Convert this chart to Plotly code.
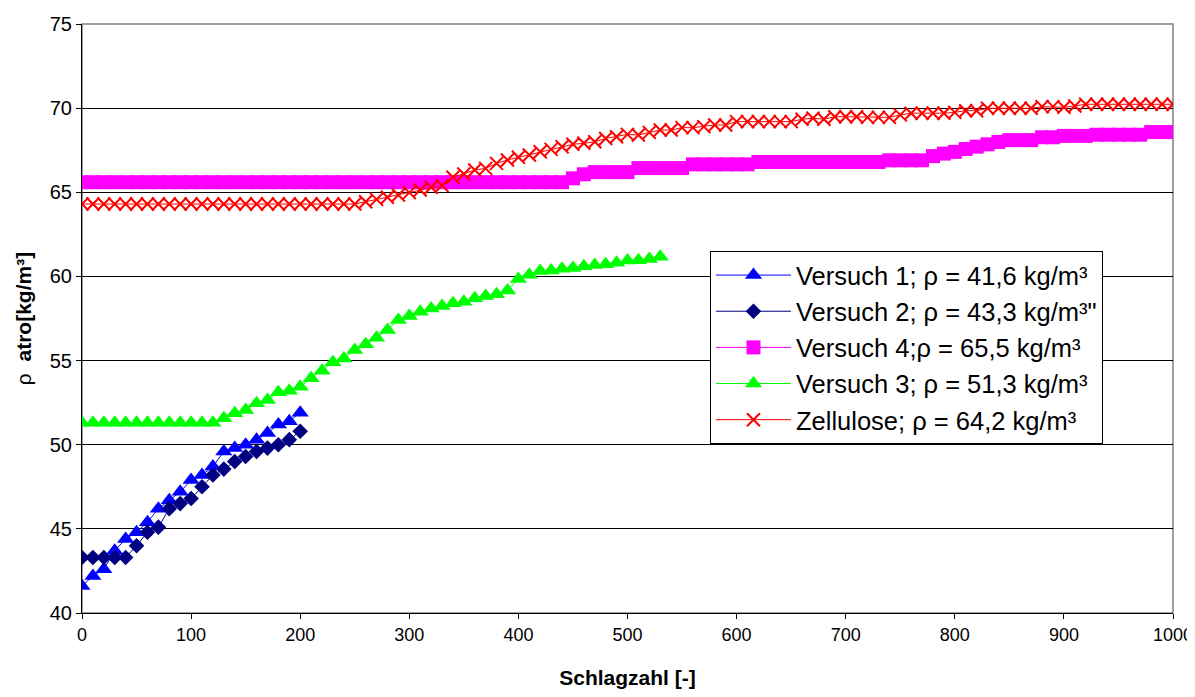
import plotly.graph_objects as go

# ---------------- data ----------------
x_v12 = list(range(0, 210, 10))
y_v1 = [41.6, 42.2, 42.6, 43.7, 44.4, 44.8, 45.4, 46.2, 46.7, 47.2, 47.9,
        48.2, 48.7, 49.6, 49.8, 50.0, 50.3, 50.7, 51.2, 51.4, 51.9]
y_v2 = [43.3, 43.3, 43.3, 43.3, 43.3, 44.0, 44.8, 45.1, 46.2, 46.5, 46.8,
        47.5, 48.2, 48.55, 49.0, 49.3, 49.6, 49.8, 50.0, 50.3, 50.8]

x_v3 = list(range(0, 540, 10))
y_v3 = [51.3, 51.3, 51.3, 51.3, 51.3, 51.3, 51.3, 51.3, 51.3, 51.3, 51.3, 51.3, 51.3,
        51.57, 51.87, 52.06, 52.46, 52.66, 53.12, 53.21, 53.45, 53.95, 54.4,
        54.9, 55.13, 55.63, 55.97, 56.36, 56.82, 57.41, 57.65, 57.9, 58.1,
        58.24, 58.4, 58.5, 58.7, 58.84, 58.94, 59.17, 59.85, 60.1, 60.32,
        60.35, 60.46, 60.5, 60.6, 60.68, 60.72, 60.82, 60.94, 60.96, 61.04, 61.17]

x_long = list(range(0, 1010, 10))
y_v4 = [
    65.6, 65.6, 65.6, 65.6, 65.6, 65.6, 65.6, 65.6, 65.6, 65.6,
    65.6, 65.6, 65.6, 65.6, 65.6, 65.6, 65.6, 65.6, 65.6, 65.6,
    65.6, 65.6, 65.6, 65.6, 65.6, 65.6, 65.6, 65.6, 65.6, 65.6,
    65.6, 65.6, 65.6, 65.6, 65.6, 65.6, 65.6, 65.6, 65.6, 65.6,
    65.6, 65.6, 65.6, 65.6, 65.6,
    65.83, 66.07, 66.2, 66.2, 66.2, 66.2,
    66.44, 66.44, 66.44, 66.44, 66.44,
    66.66, 66.66, 66.66, 66.66, 66.66, 66.66,
    66.8, 66.8, 66.8, 66.8, 66.8, 66.8, 66.8, 66.8, 66.8, 66.8, 66.8, 66.8,
    66.9, 66.9, 66.9, 66.9,
    67.15, 67.3, 67.4, 67.57, 67.71, 67.85, 67.99,
    68.1, 68.1, 68.1,
    68.27, 68.27,
    68.35, 68.35, 68.35,
    68.42, 68.42, 68.42, 68.42, 68.42,
    68.58, 68.58, 68.58]
y_zell = [
    64.3, 64.3, 64.3, 64.3, 64.3, 64.3, 64.3, 64.3, 64.3, 64.3,
    64.3, 64.3, 64.3, 64.3, 64.3, 64.3, 64.3, 64.3, 64.3, 64.3,
    64.3, 64.3, 64.3, 64.3, 64.3, 64.3,
    64.44, 64.58, 64.7, 64.84, 64.98, 65.14, 65.3, 65.4, 65.89, 66.09,
    66.32, 66.42, 66.72, 66.92, 67.08, 67.22, 67.41, 67.55, 67.71, 67.85,
    67.91, 68.0, 68.2, 68.3, 68.44, 68.4, 68.56, 68.7, 68.7, 68.84,
    68.84, 68.9, 69.0, 69.0,
    69.2, 69.2, 69.2, 69.2, 69.2, 69.2,
    69.34, 69.4, 69.34,
    69.49, 69.49, 69.49,
    69.45, 69.45, 69.45,
    69.6,
    69.7, 69.7, 69.7, 69.7,
    69.75,
    69.85, 69.85,
    69.99, 69.99, 69.99, 69.99, 69.99,
    70.09, 70.09,
    70.05, 70.13,
    70.23, 70.23, 70.23, 70.23, 70.23, 70.23, 70.23, 70.23, 70.23]

names = ["Versuch 1; ρ = 41,6 kg/m³",
         "Versuch 2; ρ = 43,3 kg/m³\"",
         "Versuch 4;ρ = 65,5 kg/m³",
         "Versuch 3; ρ = 51,3 kg/m³",
         "Zellulose; ρ = 64,2 kg/m³"]
x_ticks = [0, 100, 200, 300, 400, 500, 600, 700, 800, 900, 1000]
y_ticks = [40, 45, 50, 55, 60, 65, 70, 75]

FONT = "Liberation Sans, Arial, sans-serif"

fig = go.Figure()
fig.add_trace(go.Scatter(x=x_v12, y=y_v1, name=names[0], mode="lines+markers",
                         line=dict(color="#0000FF", width=1),
                         marker=dict(symbol="triangle-up", size=15, color="#0000FF")))
fig.add_trace(go.Scatter(x=x_v12, y=y_v2, name=names[1], mode="lines+markers",
                         line=dict(color="#000080", width=1),
                         marker=dict(symbol="diamond", size=12, color="#000080")))
fig.add_trace(go.Scatter(x=x_long, y=y_v4, name=names[2], mode="lines+markers",
                         line=dict(color="#FF00FF", width=1),
                         marker=dict(symbol="square", size=14, color="#FF00FF")))
fig.add_trace(go.Scatter(x=x_v3, y=y_v3, name=names[3], mode="lines+markers",
                         line=dict(color="#00FF00", width=1),
                         marker=dict(symbol="triangle-up", size=15, color="#00FF00")))
fig.add_trace(go.Scatter(x=x_long, y=y_zell, name=names[4], mode="lines+markers",
                         line=dict(color="#FF0000", width=1),
                         marker=dict(symbol="x-thin", size=13,
                                     line=dict(color="#FF0000", width=2))))

fig.update_layout(
    width=1195, height=681,
    margin=dict(l=74, r=30, t=16, b=76, autoexpand=False),
    paper_bgcolor="white", plot_bgcolor="white",
    font=dict(family=FONT, color="black", size=19),
    showlegend=True,
    legend=dict(x=0.5756, y=0.6146, xanchor="left", yanchor="top",
                bgcolor="white", bordercolor="black", borderwidth=1,
                font=dict(family=FONT, size=25.5, color="black"),
                itemwidth=75, tracegroupgap=0),
    shapes=[dict(type="rect", xref="paper", yref="paper", x0=0, y0=0, x1=1, y1=1,
                 line=dict(color="#808080", width=1.5), layer="below")],
)
fig.update_xaxes(range=[0, 1000], tickvals=x_ticks, ticktext=[str(v) for v in x_ticks],
                 automargin=False,
                 showgrid=False, zeroline=False, showline=True, linecolor="black",
                 linewidth=1, ticks="outside", ticklen=5, tickcolor="black",
                 tickfont=dict(size=18, family=FONT),
                 title=dict(text="<b>Schlagzahl [-]</b>", font=dict(size=21, family=FONT),
                            standoff=31))
fig.update_yaxes(range=[40, 75], tickvals=y_ticks, ticktext=[str(v) for v in y_ticks],
                 automargin=False,
                 showgrid=True, gridcolor="black", gridwidth=1,
                 zeroline=False, showline=True, linecolor="black", linewidth=1,
                 ticks="outside", ticklen=5, tickcolor="black",
                 tickfont=dict(size=20, family=FONT),
                 title=dict(text="ρ  <b>atro[kg/m³]</b>", font=dict(size=21, family=FONT),
                            standoff=12))

fig.write_html("out.html")
